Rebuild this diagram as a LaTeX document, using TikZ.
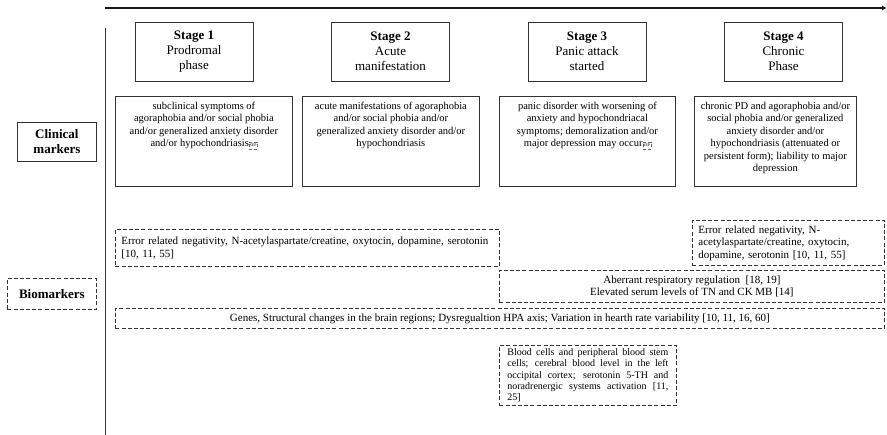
\documentclass[tikz,border=0pt]{standalone}
\usepackage{fontspec}
\setmainfont{Liberation Serif}
\usetikzlibrary{arrows.meta}
\newcommand{\sepmark}{\tikz[baseline=(sm.base)]\node[draw=black!60,densely dashed,line width=0.3pt,inner sep=0.6pt,font=\fontsize{4}{4.5}\selectfont,text width=,align=center,minimum width=7pt,minimum height=7pt,anchor=base] (sm) {SEP};}
\begin{document}
\begin{tikzpicture}[x=1pt,y=-1pt,
  lin/.style={draw=black!80,line width=0.8pt},
  stagebox/.style={lin,minimum width=118pt,minimum height=59pt,inner sep=0pt,align=center,font=\fontsize{13}{15}\selectfont},
  clinbox/.style={lin,anchor=north west,inner xsep=2pt,inner ysep=5.5pt,font=\fontsize{10.5}{12.5}\selectfont},
  dashbox/.style={draw=black!80,line width=0.8pt,dash pattern=on 4pt off 2.2pt,anchor=north west,inner ysep=0pt,font=\fontsize{11}{12.5}\selectfont},
  labelbox/.style={anchor=north west,inner sep=0pt,align=center,font=\fontsize{13}{15}\selectfont\bfseries}
]
\useasboundingbox (0,0) rectangle (887,435);
\fill[white] (0,0) rectangle (887,435);

% axes
\coordinate (axL) at (105,8);
\coordinate (axR) at (887,8);
\draw[line width=1.8pt,draw=black!90,-{Latex[length=5pt,width=5pt]}] (axL) -- (axR);
\coordinate (vT) at (105,28);
\coordinate (vB) at (105,435);
\draw[line width=1pt,draw=black!80] (vT) -- (vB);

% stages
\node[stagebox] (s1) at (194,51.5) {\textbf{Stage 1}\\Prodromal\\phase};
\node[stagebox] (s2) at (390.5,51.5) {\textbf{Stage 2}\\Acute\\manifestation};
\node[stagebox] (s3) at (587,51.5) {\textbf{Stage 3}\\Panic attack\\started};
\node[stagebox] (s4) at (783.5,51.5) {\textbf{Stage 4}\\Chronic\\Phase};

% clinical markers
\node[clinbox] (c1) at (115,96) {\parbox[t][79pt][t]{173pt}{\centering subclinical symptoms of\\agoraphobia and/or social phobia\\and/or generalized anxiety disorder\\and/or hypochondriasis\sepmark}};
\node[clinbox] (c2) at (302,96) {\parbox[t][79pt][t]{173pt}{\centering acute manifestations of agoraphobia\\and/or social phobia and/or\\generalized anxiety disorder and/or\\hypochondriasis}};
\node[clinbox] (c3) at (499,96) {\parbox[t][79pt][t]{172pt}{\centering panic disorder with worsening of\\anxiety and hypochondriacal\\symptoms; demoralization and/or\\major depression may occur\sepmark}};
\node[clinbox] (c4) at (694,96) {\parbox[t][79pt][t]{158pt}{\centering chronic PD and agoraphobia and/or\\social phobia and/or generalized\\anxiety disorder and/or\\hypochondriasis (attenuated or\\persistent form); liability to major\\depression}};

% labels
\node[labelbox,lin,minimum width=79pt,minimum height=39pt] (lc) at (17,122) {Clinical\\markers};
\node[labelbox,draw=black!80,line width=0.8pt,dash pattern=on 4pt off 2.2pt,minimum width=89pt,minimum height=31pt] (lb) at (7,278) {Biomarkers};

% biomarkers
\node[dashbox,inner xsep=6pt,text width=372pt,minimum height=37pt,align=left] (b1) at (115,229) {Error related negativity, N-acetylaspartate/creatine, oxytocin, dopamine, serotonin\\{}[10, 11, 55]};
\node[dashbox,inner xsep=6pt,text width=180pt,minimum height=45pt,align=left] (b2) at (692,220) {Error related negativity, N-\\acetylaspartate/creatine, oxytocin,\\dopamine, serotonin [10, 11, 55]};
\node[dashbox,inner xsep=0pt,minimum width=385pt,minimum height=32pt,align=center] (b3) at (499,270) {Aberrant respiratory regulation\ \ [18, 19]\\Elevated serum levels of TN and CK MB [14]};
\node[dashbox,inner xsep=0pt,minimum width=769pt,minimum height=20pt,align=center] (b4) at (115,308) {Genes, Structural changes in the brain regions; Dysregualtion HPA axis; Variation in hearth rate variability [10, 11, 16, 60]};
\node[dashbox,inner xsep=8pt,text width=161pt,minimum height=60pt,align=justify,font=\fontsize{10}{11.2}\selectfont] (b5) at (499,345) {Blood cells and peripheral blood stem\linebreak cells; cerebral blood level in the left\linebreak occipital cortex; serotonin 5-TH and\linebreak noradrenergic systems activation [11,\linebreak 25]};
\end{tikzpicture}
\end{document}
